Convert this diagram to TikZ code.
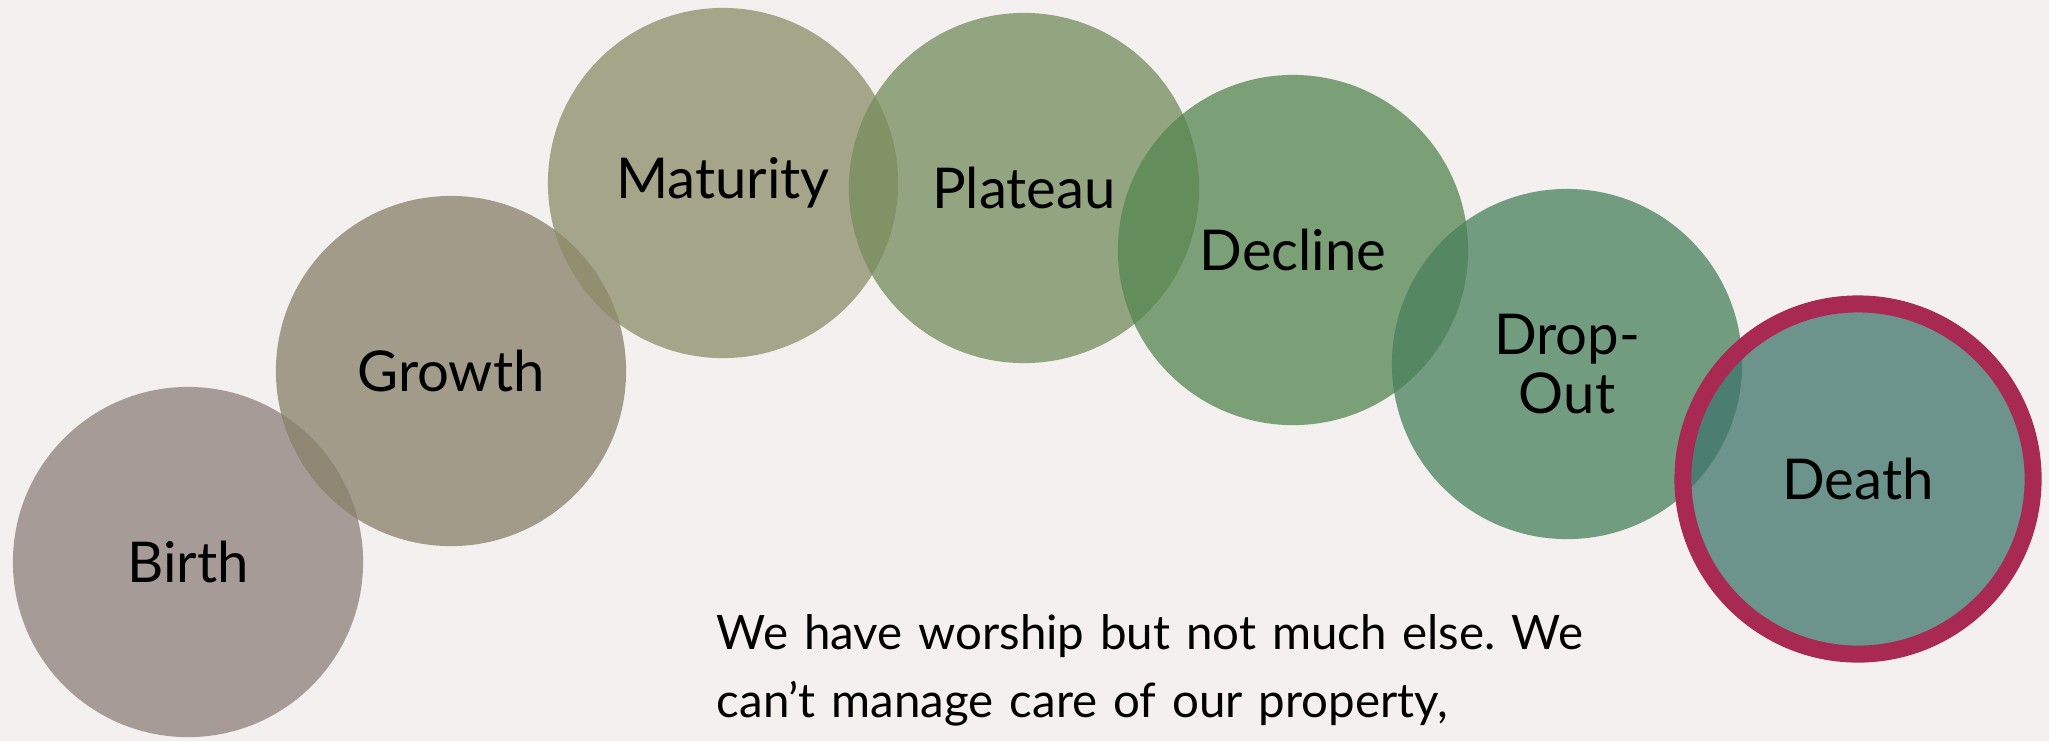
\documentclass[tikz,border=0pt]{standalone}
\usepackage{fontspec}
\setmainfont{Lato}
\usepackage{tikz}
\frenchspacing
\definecolor{bgcol}{RGB}{243,240,239}
\definecolor{birthcol}{RGB}{142,127,124}
\definecolor{growthcol}{RGB}{136,127,103}
\definecolor{maturitycol}{RGB}{140,140,104}
\definecolor{plateaucol}{RGB}{116,140,91}
\definecolor{declinecol}{RGB}{84,133,78}
\definecolor{dropcol}{RGB}{71,128,92}
\definecolor{deathcol}{RGB}{63,117,107}
\definecolor{deathred}{RGB}{168,42,82}
\tikzset{
  stage/.style={circle, minimum size=3.5cm, inner sep=0pt, fill opacity=0.75,
    text opacity=1, align=center, font=\fontsize{16}{17}\selectfont},
  remark/.style={anchor=base west, inner sep=0pt, text width=9.5cm, align=left,
    font=\fontsize{13.5}{19.6}\selectfont}
}

\begin{document}
\begin{tikzpicture}[x=0.01cm, y=-0.01cm]
    \fill[bgcol] (0,0) rectangle (2049,741);
    \useasboundingbox (0,0) rectangle (2049,741);
    \node[stage, fill=birthcol] (birth) at (188,562) {Birth};
    \node[stage, fill=growthcol] (growth) at (451,371) {Growth};
    \node[stage, fill=maturitycol] (maturity) at (723,183) {Maturity};
    \node[stage, fill=plateaucol] (plateau) at (1024,188) {Plateau};
    \node[stage, fill=declinecol] (decline) at (1293,250) {Decline};
    \node[stage, fill=dropcol] (dropout) at (1567,364) {Drop-\\Out};
    \node[stage, fill=deathcol, draw=deathred, line width=0.17cm] (death) at (1858,479) {Death};
    \node[remark] (note) at (716,649) {We have worship but not much else. We\\
      can’t manage care of our property,};
\end{tikzpicture}
\end{document}
